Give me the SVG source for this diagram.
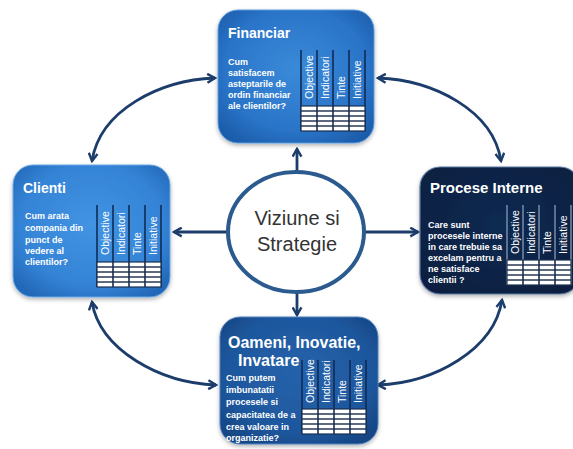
<svg xmlns="http://www.w3.org/2000/svg" width="573" height="449" viewBox="0 0 573 449">
<style>
.title{font-family:"Liberation Sans",Arial,sans-serif;font-weight:bold;fill:#fff}
.q{font-family:"Liberation Sans",Arial,sans-serif;font-weight:bold;font-size:9px;fill:#fff}
.col{font-family:"Liberation Sans",Arial,sans-serif;font-size:10.5px;fill:#fff}
.vl{stroke:#102c55;stroke-width:1.6}
.vlp{stroke:#7d92b0;stroke-width:1.4}
.conn{fill:none;stroke:#1c3d6b;stroke-width:2.8}
.center{font-family:"Liberation Sans",Arial,sans-serif;font-size:20px;fill:#333;text-anchor:middle}
</style>
<defs>
<radialGradient id="gBlue" cx="50%" cy="45%" r="65%">
<stop offset="0" stop-color="#3a8ad9"/><stop offset="0.7" stop-color="#2a74c8"/><stop offset="1" stop-color="#1d5dab"/>
</radialGradient>
<radialGradient id="gLight" cx="50%" cy="45%" r="65%">
<stop offset="0" stop-color="#4294e3"/><stop offset="0.7" stop-color="#3483d6"/><stop offset="1" stop-color="#2468b8"/>
</radialGradient>
<radialGradient id="gMid" cx="50%" cy="45%" r="65%">
<stop offset="0" stop-color="#2562ab"/><stop offset="0.7" stop-color="#1e579d"/><stop offset="1" stop-color="#164684"/>
</radialGradient>
<radialGradient id="gDark" cx="50%" cy="45%" r="65%">
<stop offset="0" stop-color="#0f2a52"/><stop offset="1" stop-color="#0a1f3f"/>
</radialGradient>
<filter id="sh" x="-10%" y="-10%" width="120%" height="125%">
<feDropShadow dx="0" dy="2" stdDeviation="2" flood-color="#000" flood-opacity="0.3"/>
</filter>
<g id="grid">
<rect x="0" y="0" width="64" height="25" fill="#fff" stroke="#1a2f4f" stroke-width="1.2"/>
<path d="M0,5H64M0,10H64M0,15H64M0,20H64" stroke="#2a3a55" stroke-width="1.3"/>
<path d="M16,0V25M32,0V25M48,0V25" stroke="#1a2f4f" stroke-width="1.6"/>
</g>
<marker id="ah" viewBox="0 0 10 10" refX="8.5" refY="5" markerWidth="11" markerHeight="11" markerUnits="userSpaceOnUse" orient="auto-start-reverse">
<path d="M1.5,1 L8.5,5 L1.5,9" fill="none" stroke="#1c3d6b" stroke-width="2.2" stroke-linejoin="miter"/>
</marker>
</defs>
<rect width="573" height="449" fill="#fff"/>

<g id="connectors">
<path class="conn" d="M297,172 V149" marker-end="url(#ah)"/>
<path class="conn" d="M228,232 H174" marker-end="url(#ah)"/>
<path class="conn" d="M365,232 H418" marker-end="url(#ah)"/>
<path class="conn" d="M297,292 V315" marker-end="url(#ah)"/>
<path class="conn" d="M92,161 C100,110 160,80 215,78" marker-start="url(#ah)" marker-end="url(#ah)"/>
<path class="conn" d="M378,78 C433,80 493,110 501,161" marker-start="url(#ah)" marker-end="url(#ah)"/>
<path class="conn" d="M92,302 C100,350 160,383 216,385" marker-start="url(#ah)" marker-end="url(#ah)"/>
<path class="conn" d="M502,300 C494,350 434,383 378,385" marker-start="url(#ah)" marker-end="url(#ah)"/>
</g>

<g id="center">
<ellipse cx="296" cy="232" rx="68" ry="60" fill="#fff" stroke="#2b5a8e" stroke-width="4"/>
<text class="center" x="297" y="225">Viziune si</text>
<text class="center" x="297" y="251">Strategie</text>
</g>

<g id="financiar">
<rect x="218" y="10" width="156" height="133" rx="20" fill="url(#gBlue)" stroke="#5b9de0" stroke-width="1" filter="url(#sh)"/>
<text class="title" x="228" y="38" font-size="14">Financiar</text>
<text class="q" x="228" y="65">Cum</text>
<text class="q" x="228" y="76">satisfacem</text>
<text class="q" x="228" y="87">asteptarile de</text>
<text class="q" x="228" y="98">ordin financiar</text>
<text class="q" x="228" y="109">ale clientilor?</text>
<path class="vl" d="M301,50V131M317,50V131M333,50V131M349,50V131M365,50V131"/>
<use href="#grid" x="301" y="106"/>
<text class="col" transform="translate(313,99) rotate(-90)">Objective</text>
<text class="col" transform="translate(329,99) rotate(-90)">Indicatori</text>
<text class="col" transform="translate(345,99) rotate(-90)">Tinte</text>
<text class="col" transform="translate(361,99) rotate(-90)">Initiative</text>
</g>

<g id="clienti">
<rect x="13" y="165" width="157" height="132" rx="20" fill="url(#gLight)" stroke="#6aaae8" stroke-width="1" filter="url(#sh)"/>
<text class="title" x="23" y="193" font-size="14">Clienti</text>
<text class="q" x="25" y="219">Cum arata</text>
<text class="q" x="25" y="231">compania din</text>
<text class="q" x="25" y="243">punct de</text>
<text class="q" x="25" y="254">vedere al</text>
<text class="q" x="25" y="265">clientilor?</text>
<path class="vl" d="M97,205V287M113,205V287M129,205V287M145,205V287M161,205V287"/>
<use href="#grid" x="97" y="262"/>
<text class="col" transform="translate(109,255) rotate(-90)">Objective</text>
<text class="col" transform="translate(125,255) rotate(-90)">Indicatori</text>
<text class="col" transform="translate(141,255) rotate(-90)">Tinte</text>
<text class="col" transform="translate(157,255) rotate(-90)">Initiative</text>
</g>

<g id="procese">
<rect x="420" y="167" width="160" height="127" rx="20" fill="url(#gDark)" stroke="#5d7aa3" stroke-width="1.2" filter="url(#sh)"/>
<text class="title" x="430" y="193" font-size="15">Procese Interne</text>
<text class="q" x="428" y="228" font-size="9.5">Care sunt</text>
<text class="q" x="428" y="239" font-size="9.5">procesele interne</text>
<text class="q" x="428" y="250" font-size="9.5">in care trebuie  sa</text>
<text class="q" x="428" y="261" font-size="9.5">excelam pentru a</text>
<text class="q" x="428" y="272" font-size="9.5">ne satisface</text>
<text class="q" x="428" y="283" font-size="9.5">clientii ?</text>
<path class="vlp" d="M507,205V285M523,205V285M539,205V285M555,205V285M571,205V285"/>
<use href="#grid" x="507" y="260"/>
<text class="col" transform="translate(519,254) rotate(-90)">Objective</text>
<text class="col" transform="translate(535,254) rotate(-90)">Indicatori</text>
<text class="col" transform="translate(551,254) rotate(-90)">Tinte</text>
<text class="col" transform="translate(567,254) rotate(-90)">Initiative</text>
</g>

<g id="oameni">
<rect x="220" y="317" width="158" height="127" rx="20" fill="url(#gMid)" stroke="#4f82c0" stroke-width="1" filter="url(#sh)"/>
<text class="title" x="228" y="348" font-size="16">Oameni, Inovatie,</text>
<text class="title" x="238" y="366" font-size="16">Invatare</text>
<text class="q" x="226" y="381" font-size="9.5">Cum putem</text>
<text class="q" x="226" y="393" font-size="9.5">imbunatatii</text>
<text class="q" x="226" y="405" font-size="9.5">procesele si</text>
<text class="q" x="226" y="418" font-size="9.5">capacitatea de a</text>
<text class="q" x="226" y="430" font-size="9.5">crea valoare in</text>
<text class="q" x="226" y="441" font-size="9.5">organizatie?</text>
<path class="vl" d="M302,360V434M318,360V434M334,360V434M350,360V434M366,360V434"/>
<use href="#grid" x="302" y="409"/>
<text class="col" transform="translate(314,403) rotate(-90)">Objective</text>
<text class="col" transform="translate(330,403) rotate(-90)">Indicatori</text>
<text class="col" transform="translate(346,403) rotate(-90)">Tinte</text>
<text class="col" transform="translate(362,403) rotate(-90)">Initiative</text>
</g>
</svg>
